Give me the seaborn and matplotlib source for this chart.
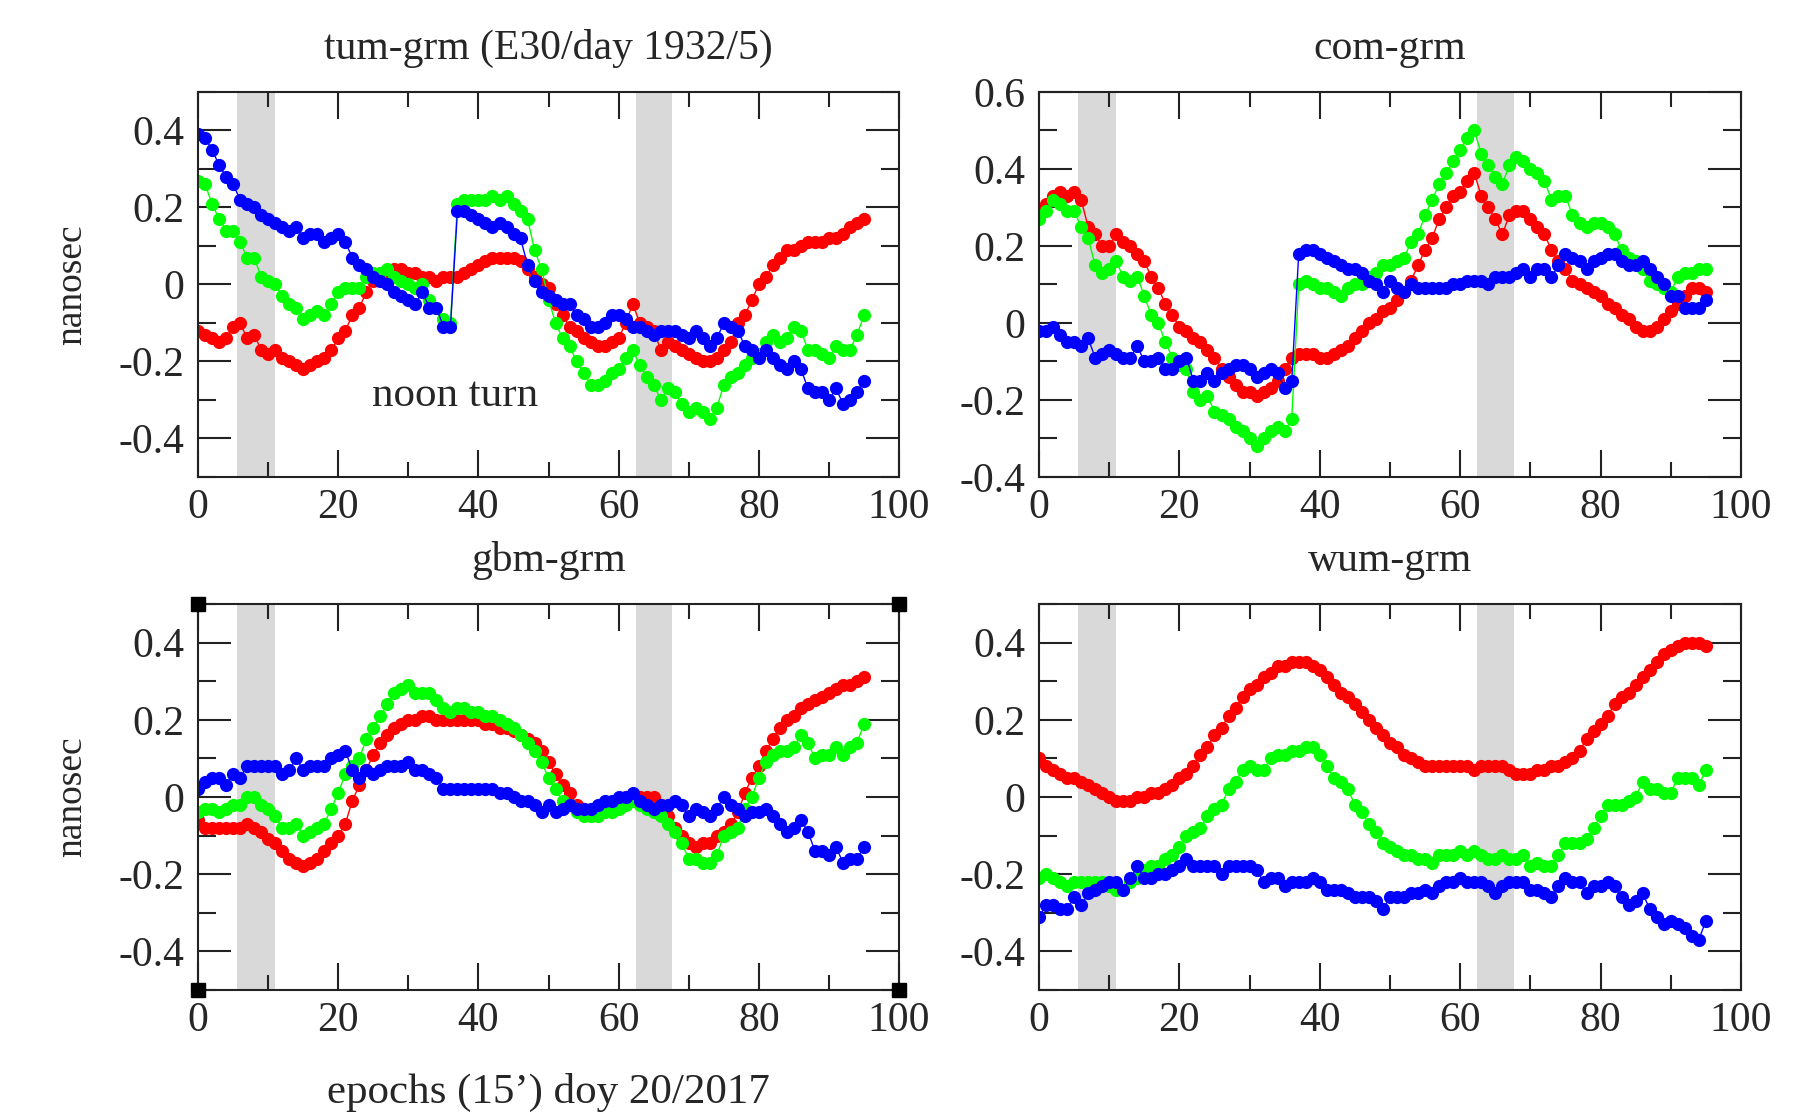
import numpy as np
import pandas as pd
import seaborn as sns
import matplotlib.pyplot as plt
from matplotlib.ticker import MultipleLocator

# clock differences vs grm, 96 epochs of 15 min, doy 20/2017
epochs = list(range(96))

tum_red = [-0.12, -0.13, -0.14, -0.15, -0.14, -0.11, -0.10, -0.14, -0.13, -0.17,
           -0.18, -0.17, -0.19, -0.20, -0.21, -0.22, -0.21, -0.20, -0.19, -0.17,
           -0.14, -0.12, -0.08, -0.06, -0.02, 0.01, 0.02, 0.03, 0.04, 0.04,
           0.03, 0.03, 0.02, 0.02, 0.01, 0.02, 0.02, 0.02, 0.03, 0.04,
           0.05, 0.06, 0.07, 0.07, 0.07, 0.07, 0.06, 0.04, 0.02, 0.00,
           -0.01, -0.05, -0.08, -0.11, -0.12, -0.14, -0.15, -0.16, -0.16, -0.15,
           -0.14, -0.10, -0.05, -0.10, -0.11, -0.12, -0.17, -0.15, -0.16, -0.17,
           -0.18, -0.19, -0.20, -0.20, -0.19, -0.17, -0.15, -0.10, -0.08, -0.04,
           0.00, 0.02, 0.05, 0.07, 0.09, 0.09, 0.10, 0.11, 0.11, 0.11,
           0.12, 0.12, 0.13, 0.15, 0.16, 0.17]
tum_green = [0.27, 0.26, 0.21, 0.17, 0.14, 0.14, 0.11, 0.07, 0.07, 0.02,
             0.01, 0.00, -0.03, -0.05, -0.06, -0.09, -0.08, -0.07, -0.08, -0.05,
             -0.02, -0.01, -0.01, -0.01, 0.02, 0.03, 0.03, 0.04, 0.02, 0.01,
             0.00, -0.01, 0.00, -0.04, -0.06, -0.09, -0.10, 0.21, 0.22, 0.22,
             0.22, 0.22, 0.23, 0.22, 0.23, 0.21, 0.19, 0.17, 0.09, 0.04,
             -0.04, -0.10, -0.14, -0.16, -0.20, -0.23, -0.26, -0.26, -0.25, -0.23,
             -0.22, -0.19, -0.17, -0.21, -0.24, -0.26, -0.30, -0.27, -0.28, -0.31,
             -0.33, -0.32, -0.33, -0.35, -0.32, -0.26, -0.24, -0.23, -0.21, -0.19,
             -0.18, -0.15, -0.13, -0.15, -0.14, -0.11, -0.12, -0.17, -0.17, -0.18,
             -0.19, -0.16, -0.17, -0.17, -0.13, -0.08]
tum_blue = [0.39, 0.38, 0.35, 0.31, 0.28, 0.26, 0.22, 0.21, 0.20, 0.18,
            0.17, 0.16, 0.15, 0.14, 0.15, 0.12, 0.13, 0.13, 0.11, 0.12,
            0.13, 0.11, 0.07, 0.05, 0.04, 0.02, 0.01, 0.00, -0.02, -0.03,
            -0.04, -0.05, -0.02, -0.06, -0.06, -0.11, -0.11, 0.19, 0.19, 0.18,
            0.17, 0.16, 0.15, 0.16, 0.15, 0.13, 0.12, 0.05, 0.01, -0.02,
            -0.03, -0.04, -0.05, -0.05, -0.08, -0.09, -0.11, -0.11, -0.10, -0.08,
            -0.08, -0.09, -0.11, -0.11, -0.12, -0.13, -0.12, -0.12, -0.12, -0.13,
            -0.14, -0.12, -0.14, -0.16, -0.14, -0.10, -0.11, -0.12, -0.16, -0.17,
            -0.19, -0.17, -0.19, -0.21, -0.22, -0.20, -0.22, -0.27, -0.28, -0.28,
            -0.30, -0.27, -0.31, -0.30, -0.28, -0.25]

com_red = [0.29, 0.31, 0.33, 0.34, 0.33, 0.34, 0.32, 0.25, 0.23, 0.20,
           0.20, 0.23, 0.21, 0.20, 0.18, 0.16, 0.12, 0.09, 0.05, 0.02,
           -0.01, -0.02, -0.04, -0.05, -0.07, -0.09, -0.12, -0.14, -0.16, -0.18,
           -0.18, -0.19, -0.18, -0.17, -0.15, -0.12, -0.09, -0.08, -0.08, -0.08,
           -0.09, -0.09, -0.08, -0.07, -0.06, -0.04, -0.02, 0.00, 0.01, 0.03,
           0.04, 0.06, 0.08, 0.11, 0.15, 0.19, 0.22, 0.27, 0.30, 0.33,
           0.34, 0.37, 0.39, 0.33, 0.30, 0.27, 0.23, 0.28, 0.29, 0.29,
           0.27, 0.25, 0.23, 0.19, 0.16, 0.14, 0.11, 0.10, 0.09, 0.08,
           0.07, 0.05, 0.04, 0.02, 0.01, -0.01, -0.02, -0.02, -0.01, 0.01,
           0.03, 0.05, 0.07, 0.09, 0.09, 0.08]
com_green = [0.27, 0.29, 0.32, 0.31, 0.29, 0.29, 0.25, 0.22, 0.15, 0.13,
             0.14, 0.16, 0.12, 0.11, 0.12, 0.07, 0.02, 0.00, -0.05, -0.09,
             -0.11, -0.12, -0.18, -0.20, -0.19, -0.23, -0.24, -0.25, -0.27, -0.28,
             -0.30, -0.32, -0.30, -0.28, -0.27, -0.28, -0.25, 0.10, 0.11, 0.10,
             0.09, 0.09, 0.08, 0.07, 0.09, 0.10, 0.10, 0.12, 0.13, 0.15,
             0.15, 0.16, 0.17, 0.21, 0.23, 0.28, 0.32, 0.36, 0.39, 0.42,
             0.45, 0.48, 0.50, 0.44, 0.41, 0.38, 0.36, 0.41, 0.43, 0.42,
             0.40, 0.39, 0.37, 0.32, 0.33, 0.33, 0.28, 0.26, 0.25, 0.26,
             0.26, 0.25, 0.23, 0.19, 0.17, 0.16, 0.14, 0.11, 0.10, 0.09,
             0.08, 0.12, 0.13, 0.13, 0.14, 0.14]
com_blue = [-0.02, -0.02, -0.01, -0.03, -0.05, -0.05, -0.06, -0.04, -0.09, -0.08,
            -0.07, -0.08, -0.09, -0.09, -0.06, -0.10, -0.10, -0.09, -0.12, -0.12,
            -0.10, -0.09, -0.15, -0.15, -0.13, -0.15, -0.13, -0.12, -0.11, -0.11,
            -0.12, -0.14, -0.13, -0.12, -0.13, -0.17, -0.15, 0.18, 0.19, 0.19,
            0.18, 0.17, 0.16, 0.15, 0.14, 0.14, 0.13, 0.11, 0.10, 0.08,
            0.11, 0.09, 0.08, 0.10, 0.09, 0.09, 0.09, 0.09, 0.09, 0.10,
            0.10, 0.11, 0.11, 0.11, 0.10, 0.12, 0.12, 0.12, 0.13, 0.14,
            0.12, 0.14, 0.14, 0.12, 0.15, 0.18, 0.17, 0.16, 0.14, 0.16,
            0.17, 0.18, 0.18, 0.16, 0.15, 0.15, 0.16, 0.14, 0.12, 0.10,
            0.07, 0.07, 0.04, 0.04, 0.04, 0.06]

gbm_red = [-0.06, -0.08, -0.08, -0.08, -0.08, -0.08, -0.08, -0.07, -0.08, -0.09,
           -0.11, -0.12, -0.14, -0.16, -0.17, -0.18, -0.17, -0.16, -0.14, -0.12,
           -0.10, -0.07, -0.01, 0.03, 0.07, 0.11, 0.14, 0.16, 0.18, 0.19,
           0.20, 0.20, 0.21, 0.21, 0.20, 0.20, 0.20, 0.20, 0.20, 0.20,
           0.20, 0.19, 0.19, 0.18, 0.18, 0.17, 0.16, 0.15, 0.14, 0.12,
           0.09, 0.06, 0.03, 0.01, -0.02, -0.03, -0.04, -0.04, -0.03, -0.02,
           -0.01, 0.00, 0.00, 0.00, 0.00, 0.00, -0.02, -0.05, -0.08, -0.10,
           -0.12, -0.13, -0.12, -0.12, -0.10, -0.09, -0.07, -0.04, 0.01, 0.05,
           0.08, 0.12, 0.15, 0.18, 0.20, 0.21, 0.23, 0.24, 0.25, 0.26,
           0.27, 0.28, 0.29, 0.29, 0.30, 0.31]
gbm_green = [-0.04, -0.03, -0.03, -0.04, -0.03, -0.02, -0.02, 0.00, 0.00, -0.02,
             -0.03, -0.05, -0.08, -0.08, -0.07, -0.10, -0.09, -0.08, -0.07, -0.03,
             0.01, 0.06, 0.08, 0.10, 0.15, 0.18, 0.21, 0.24, 0.27, 0.28,
             0.29, 0.27, 0.27, 0.27, 0.25, 0.23, 0.22, 0.23, 0.23, 0.22,
             0.22, 0.21, 0.21, 0.20, 0.19, 0.18, 0.16, 0.14, 0.12, 0.09,
             0.05, 0.02, -0.01, -0.02, -0.04, -0.05, -0.05, -0.05, -0.04, -0.04,
             -0.03, -0.02, -0.01, -0.02, -0.03, -0.04, -0.05, -0.07, -0.09, -0.12,
             -0.16, -0.16, -0.17, -0.17, -0.15, -0.10, -0.09, -0.08, -0.03, 0.00,
             0.05, 0.09, 0.11, 0.12, 0.12, 0.13, 0.16, 0.14, 0.10, 0.11,
             0.11, 0.13, 0.11, 0.13, 0.14, 0.19]
gbm_blue = [0.02, 0.04, 0.05, 0.05, 0.03, 0.06, 0.05, 0.08, 0.08, 0.08,
            0.08, 0.08, 0.06, 0.07, 0.10, 0.07, 0.08, 0.08, 0.08, 0.10,
            0.11, 0.12, 0.07, 0.05, 0.07, 0.06, 0.07, 0.08, 0.08, 0.08,
            0.09, 0.07, 0.07, 0.06, 0.05, 0.02, 0.02, 0.02, 0.02, 0.02,
            0.02, 0.02, 0.02, 0.01, 0.01, 0.00, -0.01, -0.01, -0.02, -0.04,
            -0.02, -0.04, -0.03, -0.02, -0.03, -0.03, -0.03, -0.02, -0.01, -0.01,
            0.00, 0.00, 0.01, -0.01, -0.02, -0.03, -0.02, -0.02, -0.01, -0.02,
            -0.05, -0.03, -0.04, -0.05, -0.03, 0.00, -0.02, -0.03, -0.05, -0.04,
            -0.04, -0.03, -0.05, -0.07, -0.09, -0.08, -0.06, -0.09, -0.14, -0.14,
            -0.15, -0.13, -0.17, -0.16, -0.16, -0.13]

wum_red = [0.10, 0.08, 0.07, 0.06, 0.05, 0.05, 0.04, 0.03, 0.02, 0.01,
           0.00, -0.01, -0.01, -0.01, 0.00, 0.00, 0.01, 0.01, 0.02, 0.03,
           0.05, 0.06, 0.08, 0.11, 0.13, 0.16, 0.18, 0.21, 0.23, 0.26,
           0.28, 0.29, 0.31, 0.32, 0.34, 0.34, 0.35, 0.35, 0.35, 0.34,
           0.33, 0.31, 0.29, 0.27, 0.26, 0.24, 0.22, 0.20, 0.18, 0.16,
           0.14, 0.13, 0.11, 0.10, 0.09, 0.08, 0.08, 0.08, 0.08, 0.08,
           0.08, 0.08, 0.07, 0.08, 0.08, 0.08, 0.08, 0.07, 0.06, 0.06,
           0.06, 0.07, 0.07, 0.08, 0.08, 0.09, 0.10, 0.12, 0.15, 0.17,
           0.19, 0.21, 0.24, 0.26, 0.27, 0.29, 0.31, 0.33, 0.35, 0.37,
           0.38, 0.39, 0.40, 0.40, 0.40, 0.39]
wum_green = [-0.21, -0.20, -0.21, -0.22, -0.23, -0.22, -0.22, -0.22, -0.22, -0.22,
             -0.23, -0.24, -0.24, -0.22, -0.21, -0.19, -0.18, -0.18, -0.16, -0.15,
             -0.13, -0.10, -0.09, -0.08, -0.05, -0.03, -0.02, 0.02, 0.04, 0.07,
             0.08, 0.07, 0.07, 0.10, 0.11, 0.11, 0.12, 0.12, 0.13, 0.13,
             0.11, 0.08, 0.05, 0.04, 0.02, -0.02, -0.04, -0.07, -0.09, -0.12,
             -0.13, -0.14, -0.15, -0.15, -0.16, -0.16, -0.17, -0.15, -0.15, -0.15,
             -0.14, -0.15, -0.14, -0.15, -0.16, -0.16, -0.15, -0.16, -0.16, -0.15,
             -0.18, -0.17, -0.18, -0.18, -0.15, -0.12, -0.12, -0.12, -0.11, -0.08,
             -0.05, -0.02, -0.02, -0.02, -0.01, 0.00, 0.04, 0.02, 0.02, 0.01,
             0.01, 0.05, 0.05, 0.05, 0.03, 0.07]
wum_blue = [-0.31, -0.28, -0.28, -0.29, -0.29, -0.26, -0.28, -0.25, -0.24, -0.23,
            -0.22, -0.22, -0.24, -0.21, -0.18, -0.21, -0.21, -0.20, -0.20, -0.19,
            -0.18, -0.16, -0.18, -0.18, -0.18, -0.18, -0.20, -0.18, -0.18, -0.18,
            -0.18, -0.19, -0.22, -0.21, -0.21, -0.23, -0.22, -0.22, -0.22, -0.21,
            -0.22, -0.24, -0.24, -0.24, -0.25, -0.26, -0.26, -0.26, -0.27, -0.29,
            -0.26, -0.26, -0.26, -0.25, -0.25, -0.24, -0.25, -0.23, -0.22, -0.22,
            -0.21, -0.22, -0.22, -0.22, -0.23, -0.25, -0.23, -0.22, -0.22, -0.22,
            -0.24, -0.24, -0.25, -0.26, -0.23, -0.21, -0.22, -0.22, -0.25, -0.23,
            -0.23, -0.22, -0.23, -0.26, -0.28, -0.27, -0.25, -0.29, -0.31, -0.33,
            -0.32, -0.33, -0.34, -0.36, -0.37, -0.32]

panels = ['tum-grm (E30/day 1932/5)', 'com-grm', 'gbm-grm', 'wum-grm']
panel_series = [
    (tum_red, tum_green, tum_blue),
    (com_red, com_green, com_blue),
    (gbm_red, gbm_green, gbm_blue),
    (wum_red, wum_green, wum_blue),
]
series_names = ['red', 'green', 'blue']
palette = {'red': '#ff0000', 'green': '#00ff00', 'blue': '#0000ff'}

eclipse_bands = [(5.6, 11.0), (62.4, 67.6)]
ylims = [(-0.5, 0.5), (-0.4, 0.6), (-0.5, 0.5), (-0.5, 0.5)]
yticks = [[-0.4, -0.2, 0, 0.2, 0.4],
          [-0.4, -0.2, 0, 0.2, 0.4, 0.6],
          [-0.4, -0.2, 0, 0.2, 0.4],
          [-0.4, -0.2, 0, 0.2, 0.4]]
xticks = [0, 20, 40, 60, 80, 100]
noon_label = ('noon turn', 36.6, -0.29)

sns.set_style('ticks')
plt.rcParams['font.family'] = ['Liberation Serif', 'DejaVu Serif']
plt.rcParams['axes.unicode_minus'] = False

fig = plt.figure(figsize=(18.12, 11.16), dpi=100)
rects = [[0.1093, 0.5726, 0.3869, 0.3450],
         [0.5734, 0.5726, 0.3874, 0.3450],
         [0.1093, 0.1129, 0.3869, 0.3459],
         [0.5734, 0.1129, 0.3874, 0.3459]]

FS = 30
for i, (title, series) in enumerate(zip(panels, panel_series)):
    ax = fig.add_axes(rects[i])
    df = pd.DataFrame({
        'epoch': epochs * 3,
        'ns': series[0] + series[1] + series[2],
        'clock': [s for s in series_names for _ in epochs],
    })
    for lo, hi in eclipse_bands:
        ax.axvspan(lo, hi, color='#d9d9d9', lw=0, zorder=0)
    sns.lineplot(data=df, x='epoch', y='ns', hue='clock', hue_order=series_names,
                 palette=palette, marker='o', markersize=9.5, markeredgewidth=0,
                 linewidth=1.0, errorbar=None, legend=False, ax=ax)

    ax.set_xlim(0, 100)
    ax.set_ylim(*ylims[i])
    ax.set_xticks(xticks, [str(t) for t in xticks])
    ax.set_yticks(yticks[i], [f'{t:g}' for t in yticks[i]])
    ax.xaxis.set_minor_locator(MultipleLocator(10))
    ax.yaxis.set_minor_locator(MultipleLocator(0.1))
    ax.tick_params(which='both', direction='in', top=True, right=True,
                   width=1.5, color='#222222', labelsize=FS)
    ax.tick_params(axis='x', which='major', length=19.5, pad=8)
    ax.tick_params(axis='x', which='minor', length=11)
    ax.tick_params(axis='y', which='major', length=24, pad=10)
    ax.tick_params(axis='y', which='minor', length=13)
    for sp in ax.spines.values():
        sp.set_linewidth(1.5)
        sp.set_color('#222222')

    ax.set_title(title, fontsize=FS, pad=24)
    ax.set_xlabel('')
    ax.set_ylabel('')
    if i % 2 == 0:
        ax.set_ylabel('nanosec', fontsize=27)
        ax.yaxis.set_label_coords(-0.155, 0.5)
    if i == 0:
        ax.text(noon_label[1], noon_label[2], noon_label[0], fontsize=FS + 1,
                ha='center', va='center')
    if i == 2:
        ax.set_xlabel('epochs (15\u2019) doy 20/2017', fontsize=FS + 1)
        ax.xaxis.set_label_coords(0.5, -0.215)
        ax.plot([0, 1, 0, 1], [0, 0, 1, 1], 's', color='black', ms=10,
                transform=ax.transAxes, clip_on=False, zorder=10)

fig.savefig('out.png', dpi=100)
